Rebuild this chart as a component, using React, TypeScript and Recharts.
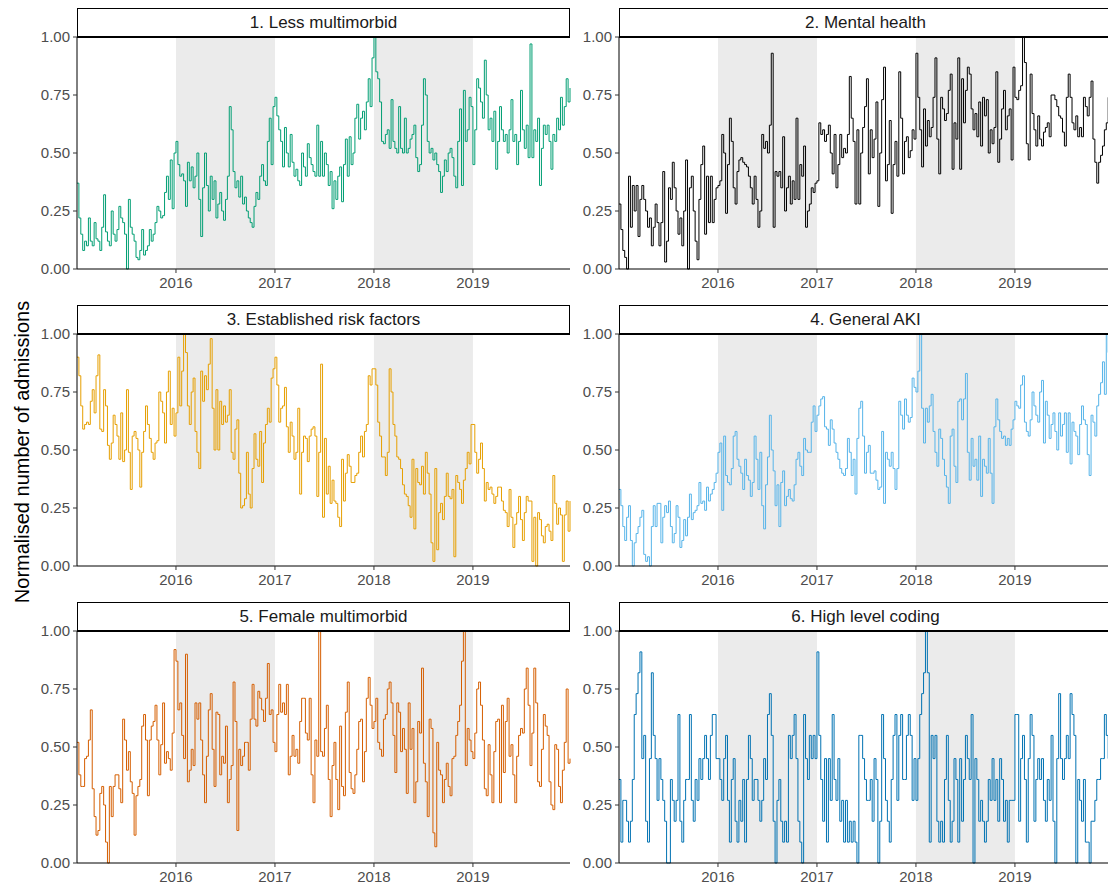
import React from 'react';
import { LineChart, Line, XAxis, YAxis, ReferenceArea } from 'recharts';

// ---- axis / facet definitions ----
const yearTicks = [52, 104, 156, 208]; // week index of 1 Jan of each year
const yearLabels = ['2016', '2017', '2018', '2019'];
const valueTicks = [0, 0.25, 0.5, 0.75, 1];
const shadedStart = [52, 156];
const shadedEnd = [104, 208];
const panelTitles = [
  '1. Less multimorbid',
  '2. Mental health',
  '3. Established risk factors',
  '4. General AKI',
  '5. Female multimorbid',
  '6. High level coding',
];
const panelColors = ['#009E73', '#000000', '#E69F00', '#56B4E9', '#D55E00', '#0072B2'];

// ---- weekly normalised admissions, 2015-2019 (52 values per year) ----
const lessMultimorbid = [
  0.37,0.22,0.15,0.08,0.12,0.10,0.22,0.12,0.10,0.20,0.13,0.12,0.08,0.18,0.32,0.16,0.12,0.10,0.25,0.15,0.12,0.17,0.27,0.22,0.20,0.15,0.00,0.30,0.18,0.15,0.12,0.05,0.04,0.08,0.17,0.06,0.08,0.10,0.17,0.12,0.15,0.20,0.27,0.25,0.22,0.23,0.33,0.40,0.30,0.47,0.26,0.50,
  0.55,0.45,0.40,0.41,0.38,0.27,0.46,0.38,0.44,0.35,0.40,0.50,0.30,0.14,0.35,0.50,0.36,0.25,0.40,0.30,0.38,0.22,0.28,0.33,0.25,0.21,0.30,0.40,0.70,0.60,0.42,0.35,0.38,0.31,0.40,0.28,0.31,0.25,0.22,0.20,0.18,0.27,0.33,0.30,0.40,0.45,0.38,0.36,0.55,0.65,0.45,0.70,
  0.74,0.66,0.60,0.55,0.44,0.61,0.50,0.44,0.58,0.46,0.40,0.43,0.38,0.36,0.50,0.44,0.40,0.54,0.48,0.45,0.42,0.40,0.62,0.40,0.55,0.40,0.50,0.45,0.36,0.42,0.26,0.38,0.30,0.40,0.44,0.29,0.45,0.56,0.40,0.57,0.45,0.50,0.65,0.71,0.56,0.65,0.68,0.60,0.72,0.82,0.70,0.91,
  1.00,0.85,0.82,0.72,0.55,0.54,0.58,0.60,0.52,0.73,0.55,0.52,0.50,0.70,0.52,0.50,0.65,0.50,0.52,0.56,0.58,0.62,0.48,0.42,0.45,0.62,0.82,0.75,0.55,0.50,0.52,0.47,0.50,0.45,0.42,0.33,0.40,0.47,0.42,0.50,0.52,0.48,0.40,0.35,0.55,0.69,0.36,0.77,0.55,0.60,0.74,0.70,
  0.45,0.60,0.82,0.78,0.72,0.65,0.90,0.75,0.60,0.65,0.55,0.68,0.43,0.55,0.70,0.60,0.55,0.58,0.50,0.60,0.73,0.55,0.58,0.45,0.55,0.77,0.60,0.52,0.62,0.48,0.97,0.48,0.60,0.55,0.65,0.36,0.52,0.62,0.58,0.62,0.55,0.43,0.58,0.55,0.65,0.60,0.74,0.62,0.70,0.82,0.72,0.78,
];

const mentalHealth = [
  0.28,0.17,0.08,0.05,0.00,0.40,0.18,0.36,0.25,0.36,0.14,0.30,0.36,0.30,0.25,0.18,0.22,0.10,0.18,0.28,0.20,0.10,0.20,0.42,0.03,0.12,0.35,0.30,0.46,0.35,0.25,0.15,0.22,0.10,0.25,0.47,0.00,0.35,0.40,0.25,0.12,0.04,0.30,0.45,0.53,0.15,0.40,0.20,0.40,0.20,0.30,0.35,
  0.36,0.38,0.58,0.50,0.24,0.45,0.65,0.55,0.35,0.28,0.42,0.47,0.48,0.46,0.45,0.44,0.40,0.35,0.28,0.40,0.30,0.18,0.25,0.58,0.52,0.55,0.50,0.62,0.93,0.18,0.42,0.40,0.42,0.35,0.57,0.25,0.35,0.40,0.28,0.38,0.30,0.65,0.30,0.45,0.40,0.53,0.18,0.25,0.28,0.35,0.33,0.37,
  0.38,0.63,0.58,0.60,0.55,0.58,0.62,0.50,0.41,0.58,0.35,0.45,0.58,0.48,0.52,0.50,0.58,0.83,0.65,0.55,0.28,0.60,0.28,0.50,0.61,0.70,0.82,0.41,0.60,0.48,0.56,0.72,0.27,0.50,0.73,0.87,0.38,0.45,0.64,0.24,0.45,0.55,0.40,0.85,0.65,0.41,0.55,0.57,0.48,0.51,0.60,0.56,
  0.93,0.74,0.60,0.44,0.69,0.53,0.64,0.57,0.61,0.74,0.91,0.56,0.41,0.74,0.69,0.64,0.67,0.77,0.84,0.43,0.63,0.56,0.91,0.43,0.82,0.63,0.77,0.87,0.84,0.69,0.60,0.67,0.57,0.72,0.53,0.74,0.66,0.73,0.50,0.60,0.54,0.61,0.85,0.46,0.56,0.69,0.77,0.60,0.66,0.69,0.47,0.87,
  0.74,0.73,0.77,0.79,1.00,0.89,0.54,0.47,0.84,0.67,0.60,0.53,0.66,0.56,0.53,0.59,0.61,0.63,0.57,0.75,0.75,0.73,0.70,0.66,0.65,0.59,0.53,0.74,0.84,0.74,0.63,0.60,0.66,0.57,0.61,0.57,0.74,0.70,0.66,0.74,0.81,0.56,0.46,0.37,0.46,0.49,0.53,0.60,0.63,0.74,0.82,0.78,
];

const establishedRiskFactors = [
  0.90,0.82,0.69,0.59,0.61,0.62,0.61,0.71,0.76,0.66,0.82,0.91,0.59,0.58,0.76,0.69,0.52,0.46,0.53,0.65,0.61,0.56,0.46,0.66,0.45,0.50,0.76,0.49,0.33,0.56,0.58,0.55,0.50,0.34,0.49,0.58,0.69,0.61,0.55,0.49,0.46,0.53,0.54,0.75,0.71,0.66,0.53,0.75,0.84,0.61,0.68,0.56,
  0.66,0.90,0.69,0.84,1.00,0.92,0.69,0.61,0.75,0.81,0.58,0.49,0.42,0.84,0.71,0.82,0.76,0.87,0.98,0.68,0.50,0.76,0.50,0.71,0.61,0.69,0.62,0.65,0.76,0.49,0.46,0.59,0.63,0.40,0.25,0.26,0.29,0.49,0.31,0.25,0.42,0.57,0.46,0.43,0.58,0.36,0.53,0.61,0.68,0.62,0.81,0.85,
  0.90,0.78,0.62,0.68,0.69,0.77,0.60,0.49,0.62,0.56,0.46,0.49,0.68,0.31,0.49,0.56,0.55,0.45,0.56,0.59,0.60,0.56,0.30,0.49,0.87,0.21,0.55,0.31,0.43,0.27,0.37,0.28,0.27,0.21,0.17,0.46,0.28,0.40,0.48,0.43,0.36,0.36,0.39,0.40,0.49,0.56,0.47,0.58,0.61,0.82,0.78,0.85,
  0.85,0.78,0.62,0.56,0.47,0.47,0.39,0.49,0.85,0.75,0.61,0.56,0.47,0.46,0.42,0.35,0.31,0.30,0.26,0.21,0.46,0.16,0.42,0.36,0.35,0.43,0.31,0.49,0.40,0.31,0.10,0.02,0.42,0.07,0.23,0.27,0.20,0.30,0.40,0.30,0.29,0.33,0.04,0.39,0.36,0.33,0.27,0.37,0.42,0.49,0.44,0.61,
  0.61,0.49,0.40,0.46,0.53,0.42,0.28,0.36,0.33,0.34,0.31,0.27,0.30,0.34,0.34,0.28,0.24,0.23,0.17,0.33,0.21,0.08,0.18,0.23,0.30,0.20,0.11,0.23,0.30,0.28,0.28,0.02,0.21,0.00,0.23,0.20,0.13,0.10,0.17,0.18,0.15,0.11,0.39,0.27,0.18,0.25,0.22,0.02,0.22,0.28,0.15,0.28,
];

const generalAKI = [
  0.33,0.26,0.17,0.11,0.21,0.26,0.11,0.00,0.10,0.14,0.17,0.21,0.24,0.05,0.02,0.04,0.00,0.17,0.26,0.17,0.27,0.27,0.10,0.21,0.26,0.23,0.28,0.17,0.10,0.14,0.26,0.21,0.08,0.11,0.20,0.13,0.21,0.31,0.20,0.23,0.24,0.26,0.36,0.27,0.28,0.24,0.34,0.28,0.31,0.33,0.36,0.40,
  0.49,0.53,0.24,0.56,0.39,0.36,0.35,0.42,0.56,0.58,0.46,0.43,0.40,0.33,0.46,0.39,0.37,0.30,0.36,0.56,0.46,0.33,0.49,0.26,0.16,0.35,0.47,0.65,0.50,0.41,0.26,0.35,0.17,0.36,0.41,0.26,0.30,0.33,0.29,0.28,0.35,0.46,0.49,0.43,0.39,0.55,0.50,0.49,0.49,0.62,0.69,0.58,
  0.65,0.69,0.72,0.73,0.60,0.59,0.52,0.63,0.59,0.53,0.49,0.46,0.42,0.40,0.39,0.42,0.55,0.49,0.39,0.46,0.31,0.55,0.68,0.71,0.56,0.40,0.49,0.52,0.40,0.40,0.41,0.37,0.33,0.34,0.58,0.27,0.49,0.46,0.43,0.49,0.42,0.33,0.42,0.71,0.65,0.59,0.72,0.65,0.62,0.64,0.81,0.77,
  0.75,0.84,1.00,0.68,0.53,0.68,0.62,0.69,0.74,0.58,0.49,0.43,0.59,0.55,0.46,0.39,0.34,0.27,0.56,0.59,0.43,0.36,0.71,0.72,0.63,0.72,0.83,0.49,0.37,0.55,0.43,0.46,0.37,0.56,0.30,0.46,0.43,0.40,0.55,0.40,0.27,0.60,0.72,0.63,0.58,0.55,0.56,0.52,0.55,0.52,0.59,0.63,
  0.71,0.69,0.68,0.78,0.82,0.62,0.58,0.56,0.63,0.75,0.69,0.65,0.62,0.75,0.80,0.53,0.71,0.65,0.55,0.61,0.66,0.58,0.50,0.66,0.56,0.61,0.66,0.49,0.66,0.44,0.62,0.58,0.56,0.48,0.61,0.69,0.63,0.61,0.48,0.39,0.65,0.62,0.56,0.69,0.74,0.79,0.88,0.74,1.00,0.92,0.95,0.90,
];

const femaleMultimorbid = [
  0.52,0.38,0.33,0.33,0.45,0.46,0.53,0.66,0.32,0.20,0.12,0.14,0.30,0.33,0.25,0.09,0.00,0.33,0.20,0.33,0.38,0.38,0.32,0.26,0.62,0.53,0.40,0.48,0.35,0.30,0.12,0.29,0.33,0.36,0.59,0.64,0.53,0.29,0.53,0.59,0.61,0.68,0.53,0.38,0.51,0.69,0.43,0.48,0.45,0.40,0.56,0.92,
  0.87,0.66,0.69,0.55,0.45,0.90,0.35,0.40,0.49,0.42,0.69,0.62,0.69,0.53,0.38,0.26,0.46,0.66,0.73,0.49,0.33,0.65,0.64,0.38,0.46,0.43,0.59,0.26,0.36,0.42,0.78,0.61,0.14,0.49,0.42,0.46,0.52,0.52,0.40,0.62,0.77,0.62,0.59,0.74,0.71,0.66,0.61,0.71,0.86,0.64,0.66,0.52,
  0.48,0.64,0.77,0.65,0.69,0.64,0.77,0.38,0.46,0.55,0.46,0.49,0.43,0.61,0.71,0.71,0.56,0.53,0.71,0.38,0.26,0.53,0.46,1.00,0.48,0.46,0.58,0.68,0.36,0.20,0.42,0.52,0.36,0.23,0.59,0.33,0.29,0.65,0.78,0.39,0.32,0.30,0.38,0.49,0.61,0.62,0.35,0.48,0.71,0.80,0.68,0.58,
  0.61,0.71,0.52,0.49,0.46,0.62,0.64,0.75,0.78,0.69,0.55,0.39,0.69,0.65,0.48,0.58,0.49,0.30,0.69,0.49,0.58,0.26,0.35,0.61,0.56,0.84,0.43,0.35,0.20,0.62,0.58,0.13,0.07,0.52,0.40,0.38,0.26,0.36,0.43,0.33,0.29,0.45,0.46,0.55,0.61,0.68,0.87,1.00,0.42,0.58,0.53,0.48,
  0.45,0.56,0.75,0.78,0.68,0.53,0.32,0.29,0.51,0.38,0.26,0.48,0.61,0.62,0.26,0.68,0.39,0.61,0.71,0.46,0.51,0.38,0.26,0.46,0.55,0.58,0.56,0.75,0.84,0.68,0.42,0.56,0.84,0.69,0.35,0.33,0.49,0.64,0.59,0.55,0.35,0.25,0.23,0.51,0.49,0.33,0.26,0.40,0.52,0.75,0.43,0.45,
];

const highLevelCoding = [
  0.36,0.09,0.27,0.27,0.18,0.09,0.18,0.36,0.64,0.73,0.82,0.91,0.45,0.55,0.18,0.09,0.45,0.82,0.55,0.45,0.27,0.45,0.36,0.27,0.18,0.00,0.00,0.36,0.27,0.18,0.27,0.64,0.18,0.09,0.27,0.36,0.36,0.64,0.27,0.18,0.36,0.27,0.45,0.36,0.45,0.55,0.45,0.36,0.55,0.64,0.64,0.45,
  0.45,0.36,0.27,0.45,0.55,0.27,0.09,0.36,0.45,0.18,0.09,0.27,0.18,0.36,0.09,0.36,0.55,0.45,0.27,0.36,0.36,0.27,0.18,0.27,0.45,0.36,0.64,0.73,0.55,0.18,0.00,0.27,0.36,0.18,0.09,0.18,0.09,0.55,0.45,0.55,0.64,0.45,0.18,0.09,0.00,0.64,0.45,0.36,0.55,0.45,0.55,0.45,
  0.91,0.55,0.36,0.18,0.45,0.09,0.45,0.27,0.64,0.36,0.27,0.45,0.18,0.27,0.09,0.27,0.09,0.18,0.09,0.18,0.09,0.00,0.55,0.55,0.45,0.36,0.27,0.27,0.36,0.18,0.45,0.36,0.00,0.18,0.64,0.45,0.27,0.18,0.09,0.36,0.55,0.64,0.27,0.55,0.64,0.36,0.36,0.55,0.64,0.55,0.27,0.45,
  0.27,0.45,0.64,0.73,0.82,1.00,0.82,0.09,0.55,0.45,0.55,0.18,0.09,0.18,0.09,0.36,0.55,0.27,0.09,0.18,0.45,0.36,0.09,0.45,0.18,0.36,0.55,0.45,0.36,0.64,0.00,0.45,0.36,0.18,0.27,0.18,0.09,0.18,0.36,0.27,0.45,0.27,0.36,0.18,0.45,0.36,0.18,0.27,0.09,0.27,0.27,0.27,
  0.64,0.64,0.18,0.45,0.55,0.36,0.09,0.45,0.64,0.55,0.18,0.36,0.45,0.36,0.45,0.27,0.18,0.36,0.27,0.55,0.18,0.00,0.45,0.73,0.45,0.36,0.45,0.55,0.45,0.73,0.64,0.55,0.00,0.36,0.27,0.18,0.36,0.09,0.09,0.00,0.18,0.18,0.27,0.36,0.36,0.45,0.45,0.64,0.55,0.45,0.36,0.55,
];

const seriesList = [
  lessMultimorbid,
  mentalHealth,
  establishedRiskFactors,
  generalAKI,
  femaleMultimorbid,
  highLevelCoding,
];

// ---- layout ----
const FONT = '"Liberation Sans", Arial, Helvetica, sans-serif';
const PLOT_W = 493;
const PLOT_H = 232;
const AXIS_W = 50;
const AXIS_H = 30;
const M_TOP = 14;
const M_RIGHT = 6;
const STRIP_H = 30;
const colLeft = [77, 619];
const rowTop = [37, 334, 631];

function Panel({ idx }: { idx: number }) {
  const values = seriesList[idx];
  const data = values.map((v, i) => ({ week: i, value: v }));
  const col = idx % 2;
  const row = Math.floor(idx / 2);
  const left = colLeft[col];
  const top = rowTop[row];
  return (
    <>
      <div
        style={{
          position: 'absolute',
          left: left,
          top: top - STRIP_H + 1,
          width: PLOT_W,
          height: STRIP_H,
          boxSizing: 'border-box',
          border: '1px solid #000',
          borderBottom: '2px solid #000',
          background: '#fff',
          display: 'flex',
          alignItems: 'center',
          justifyContent: 'center',
          fontFamily: FONT,
          fontSize: 17,
          color: '#1A1A1A',
        }}
      >
        {panelTitles[idx]}
      </div>
      <div style={{ position: 'absolute', left: left - AXIS_W, top: top - M_TOP }}>
        <LineChart
          width={AXIS_W + PLOT_W + M_RIGHT}
          height={M_TOP + PLOT_H + AXIS_H}
          data={data}
          margin={{ top: M_TOP, right: M_RIGHT, bottom: 0, left: 0 }}
        >
          <XAxis
            dataKey="week"
            type="number"
            domain={[0, 259]}
            ticks={yearTicks}
            tickFormatter={(v: number) => yearLabels[yearTicks.indexOf(v)]}
            height={AXIS_H}
            tickSize={4}
            tickMargin={4}
            axisLine={{ stroke: '#000000', strokeWidth: 1 }}
            tickLine={{ stroke: '#333333' }}
            tick={{ fill: '#4D4D4D', fontSize: 15, fontFamily: FONT }}
            interval={0}
          />
          <YAxis
            type="number"
            domain={[0, 1]}
            ticks={valueTicks}
            tickFormatter={(v: number) => v.toFixed(2)}
            width={AXIS_W}
            tickSize={4}
            tickMargin={3}
            axisLine={{ stroke: '#000000', strokeWidth: 1 }}
            tickLine={{ stroke: '#333333' }}
            tick={{ fill: '#4D4D4D', fontSize: 15, fontFamily: FONT }}
            interval={0}
          />
          {shadedStart.map((s, k) => (
            <ReferenceArea
              key={s}
              x1={s}
              x2={shadedEnd[k]}
              y1={0}
              y2={1}
              fill="#EBEBEB"
              fillOpacity={1}
              stroke="none"
            />
          ))}
          <Line
            type="stepAfter"
            dataKey="value"
            stroke={panelColors[idx]}
            strokeWidth={1}
            dot={false}
            activeDot={false}
            isAnimationActive={false}
          />
        </LineChart>
      </div>
      <div
        style={{
          position: 'absolute',
          left: left,
          top: top - 1,
          width: PLOT_W,
          height: 2,
          background: '#000',
        }}
      />
    </>
  );
}

export default function App() {
  return (
    <div
      style={{
        position: 'fixed',
        left: 0,
        top: 0,
        width: 1108,
        height: 892,
        overflow: 'hidden',
        background: '#fff',
        fontFamily: FONT,
      }}
    >
      {seriesList.map((_, i) => (
        <Panel key={i} idx={i} />
      ))}
      <svg
        width={1108}
        height={892}
        style={{ position: 'absolute', left: 0, top: 0, pointerEvents: 'none' }}
      >
        <text
          x={22}
          y={452}
          transform="rotate(-90 22 452)"
          textAnchor="middle"
          dominantBaseline="central"
          fontSize={20}
          fontFamily={FONT}
          fill="#000"
        >
          Normalised number of admissions
        </text>
      </svg>
    </div>
  );
}
